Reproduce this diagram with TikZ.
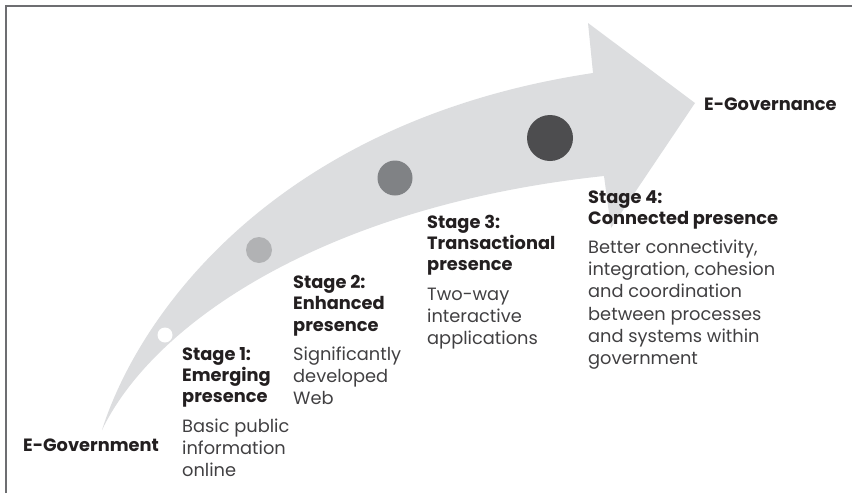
\documentclass[tikz,border=0pt]{standalone}
\usepackage{fontspec}
\setmainfont{Poppins}
\definecolor{arrowgrey}{HTML}{DCDDDF}
\definecolor{dotA}{HTML}{B1B2B4}
\definecolor{dotB}{HTML}{808285}
\definecolor{dotC}{HTML}{4D4D4F}
\definecolor{framecol}{HTML}{6D6E71}
\definecolor{headcol}{HTML}{231F20}
\definecolor{bodycol}{HTML}{414042}
\newcommand{\mystack}[1]{\begin{tabular}[t]{@{}l@{}}#1\end{tabular}}
\begin{document}
\begin{tikzpicture}[x=1pt,y=-1pt,
  head/.style={anchor=base west, inner sep=0pt, text=headcol, font=\bfseries\fontsize{17.8}{21.3}\selectfont},
  bodytext/.style={anchor=base west, inner sep=0pt, text=bodycol, font=\fontsize{17.8}{22.3}\selectfont},
  dot/.style={circle, inner sep=0pt, minimum size=#1}]
\useasboundingbox (0,0) rectangle (852,493);
% frame
\draw[framecol, line width=1.5pt] (6,493) -- (6,6) -- (852,6);
% curved arrow
\fill[arrowgrey] (102,430) .. controls (140,310) and (280,120) .. (593,73)
  -- (588,23) -- (695,103) -- (611,228) -- (604,176)
  .. controls (330,205) and (155,320) .. (102,430) -- cycle;
% stage dots
\node[dot=15, fill=white] (d1) at (165,335) {};
\node[dot=26, fill=dotA] (d2) at (259,250) {};
\node[dot=35, fill=dotB] (d3) at (395,178) {};
\node[dot=46, fill=dotC] (d4) at (550,138) {};
% end labels
\node[head] (egov) at (23,451.7) {E-Government};
\node[head] (egovn) at (704,110) {E-Governance};
% stage 1
\node[head] (s1h) at (182,360) {\mystack{Stage 1:\\Emerging\\presence}};
\node[bodytext] (s1b) at (182,432) {\mystack{Basic public\\information\\online}};
% stage 2
\node[head] (s2h) at (293,288.5) {\mystack{Stage 2:\\Enhanced\\presence}};
\node[bodytext] (s2b) at (293,360) {\mystack{Significantly\\developed\\Web}};
% stage 3
\node[head] (s3h) at (427,228) {\mystack{Stage 3:\\Transactional\\presence}};
\node[bodytext] (s3b) at (427,300) {\mystack{Two-way\\interactive\\applications}};
% stage 4
\node[head] (s4h) at (588,203) {\mystack{Stage 4:\\Connected presence}};
\node[bodytext] (s4b) at (588,253.3) {\mystack{Better connectivity,\\integration, cohesion\\and coordination\\between processes\\and systems within\\government}};
\end{tikzpicture}
\end{document}
